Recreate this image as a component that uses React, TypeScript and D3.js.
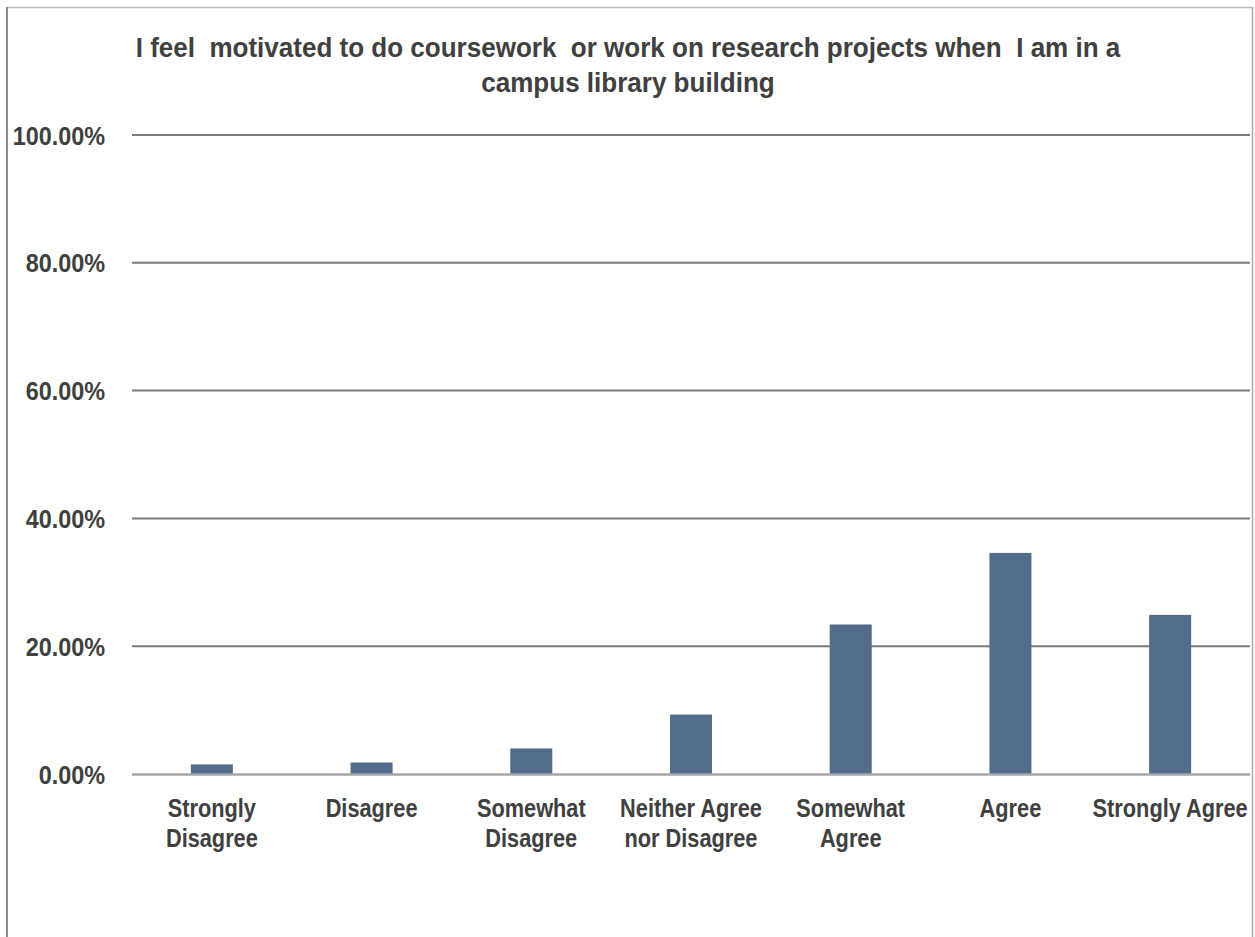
import React from "react";
import * as d3 from "d3";

const categories: string[][] = [
  ["Strongly", "Disagree"],
  ["Disagree"],
  ["Somewhat", "Disagree"],
  ["Neither Agree", "nor Disagree"],
  ["Somewhat", "Agree"],
  ["Agree"],
  ["Strongly Agree"],
];
const categoryKeys = categories.map((c) => c.join(" "));
const values: number[] = [1.5, 1.8, 4.0, 9.3, 23.4, 34.6, 24.9];
const yTicks: number[] = [0, 20, 40, 60, 80, 100];
const titleLines: string[] = [
  "I feel  motivated to do coursework  or work on research projects when  I am in a",
  "campus library building",
];

const FONT = "'Liberation Sans', Arial, sans-serif";
const TEXT = "#404040";

function NText(props: {
  x: number;
  y: number;
  sx: number;
  size: number;
  anchor: "start" | "middle" | "end";
  children: React.ReactNode;
}) {
  return (
    <g transform={`translate(${props.x},${props.y}) scale(${props.sx},1)`}>
      <text
        x={0}
        y={0}
        textAnchor={props.anchor}
        fontFamily={FONT}
        fontWeight="bold"
        fontSize={props.size}
        fill={TEXT}
        style={{ whiteSpace: "pre" }}
      >
        {props.children}
      </text>
    </g>
  );
}

export default function App() {
  const W = 1255;
  const H = 937;
  const left = 132;
  const right = 1250;
  const top = 135;
  const bottom = 774;

  const x = d3.scaleBand<string>().domain(categoryKeys).range([left, right]).padding(0);
  const y = d3.scaleLinear().domain([0, 100]).range([bottom, top]);
  const barW = x.bandwidth() * 0.263;

  return (
    <svg
      width={W}
      height={H}
      style={{ position: "absolute", left: 0, top: 0, background: "#fff" }}
    >
      <rect x={0} y={0} width={W} height={H} fill="#fff" />
      {/* border */}
      <line x1={7} x2={1252.5} y1={7.5} y2={7.5} stroke="#bdbdbd" strokeWidth={1.5} />
      <line x1={7} x2={7} y1={7} y2={H} stroke="#8c8c8c" strokeWidth={2} />
      <line x1={1252.5} x2={1252.5} y1={7} y2={H} stroke="#a8a8a8" strokeWidth={1.5} />

      {/* title */}
      {titleLines.map((t, i) => (
        <NText key={i} x={628} y={57 + i * 35} sx={0.93} size={28} anchor="middle">
          {t}
        </NText>
      ))}

      {/* gridlines */}
      {yTicks.filter((t) => t > 0).map((t) => (
        <line key={t} x1={left} x2={right} y1={y(t)} y2={y(t)} stroke="#7a7a7a" strokeWidth={2} />
      ))}

      {/* y labels */}
      {yTicks.map((t) => (
        <NText key={t} x={105} y={y(t) + 9.5} sx={0.9} size={26} anchor="end">
          {t.toFixed(2) + "%"}
        </NText>
      ))}

      {/* bars */}
      {values.map((v, i) => {
        const cx = (x(categoryKeys[i]) as number) + x.bandwidth() / 2;
        return (
          <rect
            key={i}
            x={cx - barW / 2}
            y={y(v)}
            width={barW}
            height={y(0) - y(v)}
            fill="#536c89"
          />
        );
      })}

      {/* zero axis */}
      <line x1={left} x2={right} y1={bottom + 0.5} y2={bottom + 0.5} stroke="#a6a6a6" strokeWidth={2.5} />

      {/* x labels */}
      {categories.map((lines, i) => {
        const cx = (x(categoryKeys[i]) as number) + x.bandwidth() / 2;
        return lines.map((l, j) => (
          <NText key={i + "-" + j} x={cx} y={817 + j * 30} sx={0.87} size={25} anchor="middle">
            {l}
          </NText>
        ));
      })}
    </svg>
  );
}
